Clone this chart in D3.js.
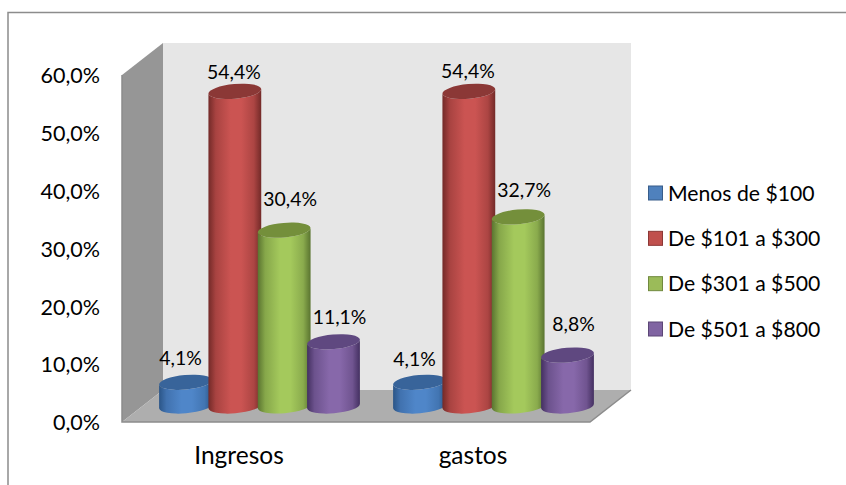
<!DOCTYPE html>
<html><head><meta charset="utf-8">
<script src="https://cdn.jsdelivr.net/npm/d3@7"></script>
<style>html,body{margin:0;padding:0;background:#fff}svg{display:block}text{font-family:Lato,sans-serif;fill:#000}</style>
</head><body><svg id="c" width="846" height="485"></svg>
<script>
const categories = ["Ingresos", "gastos"];
const seriesNames = ["Menos de $100", "De $101 a $300", "De $301 a $500", "De $501 a $800"];
const ingresosValues = [4.1, 54.4, 30.4, 11.1];
const gastosValues = [4.1, 54.4, 32.7, 8.8];
const tickValues = [0, 10, 20, 30, 40, 50, 60];

const valuesByCategory = [ingresosValues, gastosValues];
const palette = [
  {edge:"#2b5587", mid:"#4f86c9", top:"#38649a", box:"#4f81bd", line:"#385d8a"},
  {edge:"#732a28", mid:"#cb5452", top:"#8b3836", box:"#c0504d", line:"#8c3836"},
  {edge:"#5a7430", mid:"#a4c95c", top:"#748f3b", box:"#9bbb59", line:"#71893f"},
  {edge:"#443061", mid:"#8768aa", top:"#5f4880", box:"#8064a2", line:"#5c4776"}
];
const depth = {dx: 41, dy: 32};
const plot = {left: 122, right: 590, top: 75, bottom: 422};
const cyl = {rx: 26.5, ry: 7.3, tilt: 5 * Math.PI / 180};
const labelNudge = [
  [[-5, -17], [-1, -12], [6, -24], [6, -18]],
  [[-5, -16], [-1, -13], [6, -20], [6, -24]]
];
const fmt = v => v.toFixed(1).replace(".", ",") + "%";

const svg = d3.select("#c");
const defs = svg.append("defs");
palette.forEach((p, i) => {
  const g = defs.append("linearGradient").attr("id", "g" + i);
  [[0, p.edge], [.14, d3.interpolateRgb(p.edge, p.mid)(.6)], [.42, p.mid], [.62, p.mid], [.86, d3.interpolateRgb(p.edge, p.mid)(.65)], [1, p.edge]]
    .forEach(s => g.append("stop").attr("offset", s[0]).attr("stop-color", s[1]));
});

const x0 = d3.scaleBand().domain(categories).range([plot.left, plot.right]);
const y = d3.scaleLinear().domain([0, 60]).range([plot.bottom, plot.top]);
const xs = d3.scalePoint().domain(seriesNames).range([-74, 74]);

// frame
svg.append("path").attr("d", "M8,485V12.5H846").attr("fill", "none").attr("stroke", "#8c8c8c").attr("stroke-width", 1.5);

// walls
const L = plot.left, R = plot.right, T = plot.top, B = plot.bottom, dx = depth.dx, dy = depth.dy;
svg.append("path").attr("d", `M${L+dx},${T-dy}H${R+dx}V${B-dy}H${L+dx}Z`).attr("fill", "#e6e6e6");
svg.append("path").attr("d", `M${L},${T}L${L+dx},${T-dy}V${B-dy}L${L},${B}Z`).attr("fill", "#969696");
svg.append("path").attr("d", `M${L},${B}L${L+dx},${B-dy}H${R+dx}L${R},${B}Z`).attr("fill", "#aeaeae");
svg.append("path").attr("d", `M${L},${T}V${B}H${R}L${R+dx},${B-dy}`).attr("fill", "none").attr("stroke", "#8c8c8c").attr("stroke-width", 1.5);

// axis
const axis = d3.axisLeft(y).tickValues(tickValues).tickFormat(fmt).tickSize(0).tickPadding(0);
const ag = svg.append("g").attr("transform", `translate(${L-22},0)`).call(axis);
ag.select(".domain").remove();
ag.selectAll("text").attr("font-size", 21.5).attr("font-family", "Lato").attr("dy", ".36em");

const xa = d3.axisBottom(x0).tickSize(0).tickPadding(0);
const xg = svg.append("g").attr("transform", `translate(0,${B+22})`).call(xa);
xg.select(".domain").remove();
xg.selectAll("text").attr("font-size", 24.5).attr("font-family", "Lato").attr("dy", ".8em");

// cylinders
categories.forEach((cat, ci) => {
  const cx0 = x0(cat) + x0.bandwidth() / 2 + dx / 2;
  valuesByCategory[ci].forEach((v, si) => {
    const cx = cx0 + xs(seriesNames[si]);
    const yb = y(0) - dy / 2, yt = y(v) - dy / 2;
    const ax = cyl.rx * Math.cos(cyl.tilt), ay = cyl.rx * Math.sin(cyl.tilt), rot = -5;
    const g = svg.append("g");
    g.append("path")
      .attr("d", `M${cx-ax},${yt+ay}L${cx-ax},${yb+ay}A${cyl.rx},${cyl.ry} ${rot} 0 0 ${cx+ax},${yb-ay}L${cx+ax},${yt-ay}A${cyl.rx},${cyl.ry} ${rot} 0 1 ${cx-ax},${yt+ay}Z`)
      .attr("fill", `url(#g${si})`);
    g.append("ellipse").attr("rx", cyl.rx).attr("ry", cyl.ry)
      .attr("transform", `translate(${cx},${yt}) rotate(${rot})`)
      .attr("fill", palette[si].top);
    const n = labelNudge[ci][si];
    svg.append("text").datum(v).attr("class", "lbl")
      .attr("x", cx + n[0]).attr("y", yt + n[1])
      .attr("text-anchor", "middle").attr("font-size", 19.4).text(fmt(v));
  });
});
svg.selectAll("text.lbl").raise();

// legend
const ly = d3.scalePoint().domain(seriesNames).range([193, 329]);
seriesNames.forEach((s, i) => {
  svg.append("rect").attr("x", 648.5).attr("y", ly(s) - 7).attr("width", 14).attr("height", 14)
    .attr("fill", palette[i].box).attr("stroke", palette[i].line).attr("stroke-width", 1);
  svg.append("text").attr("x", 668).attr("y", ly(s) + 7.5).attr("font-size", 21.2).text(s);
});
</script></body></html>
